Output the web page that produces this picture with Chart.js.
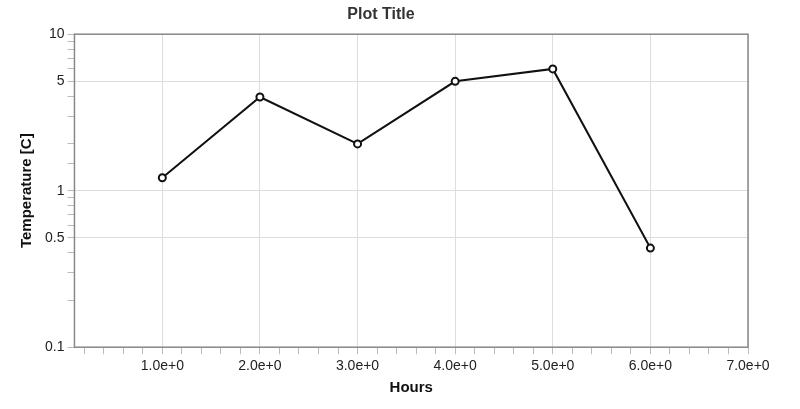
<!DOCTYPE html>
<html><head><script src="https://cdn.jsdelivr.net/npm/chart.js@4"></script>
<style>body{margin:0;background:#fff}#w{width:800px;height:409px}</style></head>
<body><div id="w"><canvas id="c"></canvas></div>
<script>
const hours=[1,2,3,4,5,6];
const temps=[1.21,3.97,1.99,5.0,6.0,0.43];
const yLabels=[0.1,0.5,1,5,10];
const yMajor=v=>yLabels.some(l=>Math.abs(l-v)<1e-9);
const isInt=v=>Math.abs(v-Math.round(v))<1e-6;
const boxPlugin={id:'box',afterDraw(ch){const a=ch.chartArea,c=ch.ctx;c.save();c.strokeStyle='#888';c.lineWidth=1.5;c.strokeRect(a.left,a.top,a.right-a.left,a.bottom-a.top);c.restore();}};
const F='Liberation Sans, Arial';
new Chart(document.getElementById('c'),{type:'line',
data:{datasets:[{data:hours.map((h,i)=>({x:h,y:temps[i]})),borderColor:'#111',borderWidth:2,pointRadius:3.5,pointBorderWidth:2,pointBackgroundColor:'#fff',pointBorderColor:'#111',tension:0}]},
options:{responsive:true,maintainAspectRatio:false,animation:false,
layout:{padding:{left:14,right:52,top:3,bottom:8}},
plugins:{legend:{display:false},tooltip:{enabled:false},
title:{display:true,text:'Plot Title',font:{size:16,weight:'bold',family:F},color:'#333',padding:{top:2,bottom:10}}},
scales:{
x:{type:'linear',min:0.1,max:7,afterBuildTicks(s){const t=[];for(let v=2;v<=70;v+=2)t.push({value:v/10});s.ticks=t;},
ticks:{autoSkip:false,maxRotation:0,color:'#222',font:{size:14,family:F},padding:4,callback:v=>isInt(v)?v.toFixed(1)+'e+0':''},
grid:{color:c=>c.tick&&isInt(c.tick.value)?'#ddd':'rgba(0,0,0,0)',tickColor:'#bbb',tickLength:7},border:{display:false},
title:{display:true,text:'Hours',font:{size:15,weight:'bold',family:F},color:'#111',padding:{top:0}}},
y:{type:'logarithmic',min:0.1,max:10,
ticks:{autoSkip:false,color:'#222',font:{size:14,family:F},callback:v=>yMajor(v)?String(v):''},
grid:{color:c=>c.tick&&yMajor(c.tick.value)?'#ddd':'rgba(0,0,0,0)',tickColor:'#bbb',tickLength:7},border:{display:false},
title:{display:true,text:'Temperature [C]',font:{size:15,weight:'bold',family:F},color:'#111',padding:{bottom:6}}}}},
plugins:[boxPlugin]});
</script></body></html>
